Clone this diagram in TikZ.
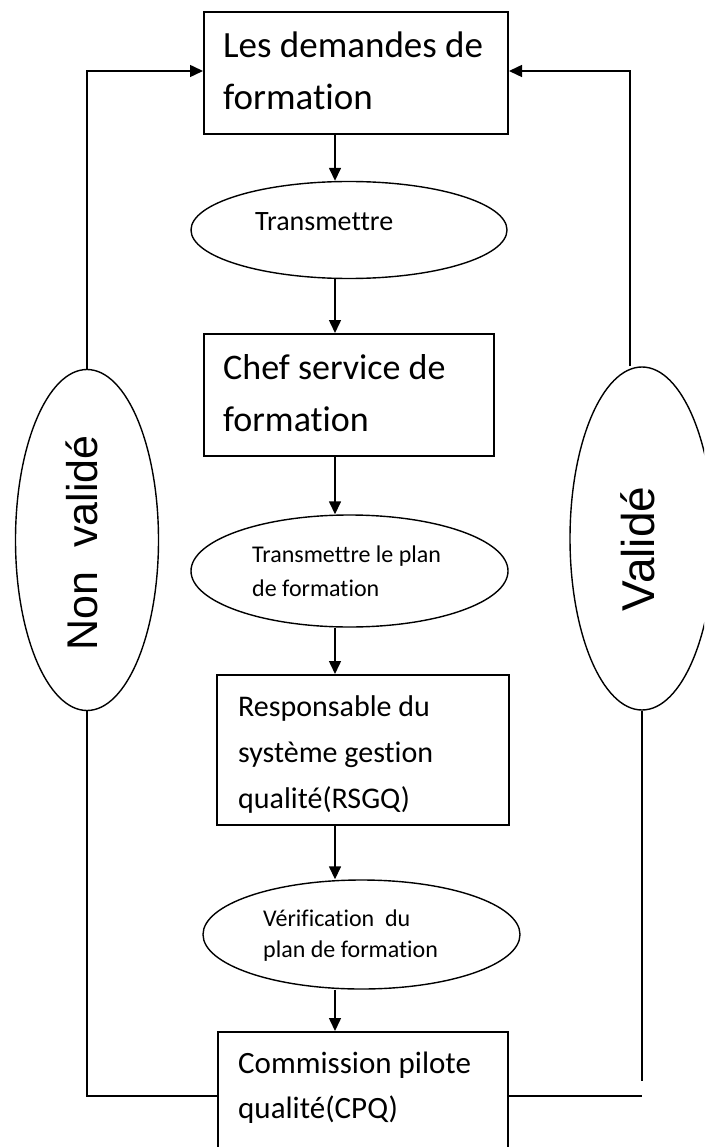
\documentclass[tikz,border=0pt]{standalone}
\usepackage{fontspec}
\setmainfont{Carlito}[Ligatures=NoCommon]
\newfontfamily\arialfont{Liberation Sans}
\usetikzlibrary{shapes.geometric,arrows.meta}
\begin{document}
\begin{tikzpicture}[x=1pt,y=-1pt,
  box/.style={draw, rectangle, line width=2pt, inner sep=0pt, anchor=north west},
  oval/.style={draw, ellipse, line width=1.4pt, inner sep=0pt},
  txt/.style={inner sep=0pt, align=left, anchor=west},
  vtxt/.style={inner sep=0pt, rotate=90},
  arr/.style={line width=1.5pt, -{Triangle[length=13pt,width=12pt]}},
  conn/.style={line width=1.5pt}]
\useasboundingbox (0,0) rectangle (704,1147);
\clip (0,0) rectangle (704,1147);
% boxes
\node[box, minimum width=304pt, minimum height=122pt] (b1) at (203,11) {};
\node[box, minimum width=290pt, minimum height=122pt] (b2) at (203,333) {};
\node[box, minimum width=292pt, minimum height=150pt] (b3) at (216,674) {};
\node[box, minimum width=290pt, minimum height=160pt] (b4) at (217,1031) {};
% ellipses
\node[oval, minimum width=316pt, minimum height=97pt] (e1) at (349,230) {};
\node[oval, minimum width=317pt, minimum height=112pt] (e2) at (349.5,571) {};
\node[oval, minimum width=317pt, minimum height=109pt] (e3) at (361.5,934.5) {};
\node[oval, minimum width=143pt, minimum height=341pt] (nv) at (87,540) {};
\node[oval, minimum width=144pt, minimum height=343pt] (va) at (642,538.5) {};
% texts
\node[txt, font=\fontsize{37}{52}\selectfont] (t1) at (223,71) {Les demandes de\\formation};
\node[txt, font=\fontsize{36}{52}\selectfont] (t2) at (223,393) {Chef service de\\formation};
\node[txt, font=\fontsize{30}{46}\selectfont] (t3) at (238,754) {Responsable du\\système gestion\\qualité(RSGQ)};
\node[txt, font=\fontsize{31}{45}\selectfont] (t4) at (238,1088) {Commission pilote\\qualité(CPQ)};
\node[txt, font=\fontsize{28}{34}\selectfont] (s1) at (255,222) {Transmettre};
\node[txt, font=\fontsize{24}{34}\selectfont] (s2) at (252,571) {Transmettre le plan\\de formation};
\node[txt, font=\fontsize{24}{31}\selectfont] (s3) at (263,936) {Vérification~~du\\plan de formation};
\node[vtxt, font=\arialfont\fontsize{43}{52}\selectfont] (tnv) at (82,543) {Non~~validé};
\node[vtxt, font=\arialfont\fontsize{46}{56}\selectfont] (tva) at (638,549) {Validé};
% helper coordinates
\coordinate (ax) at (335,0);
\coordinate (rx) at (630,0);
\coordinate (yb) at (0,1096);
\coordinate (ye) at (0,1081);
\coordinate (yt) at (0,71);
% main flow
\draw[arr] (b1.south -| ax) -- (e1.north -| ax);
\draw[arr] (e1.south -| ax) -- (b2.north -| ax);
\draw[arr] (b2.south -| ax) -- (e2.north -| ax);
\draw[arr] (e2.south -| ax) -- (b3.north -| ax);
\draw[arr] (b3.south -| ax) -- (e3.north -| ax);
\draw[arr] (e3.south -| ax) -- (b4.north -| ax);
% loops
\draw[arr] (nv.north) -- (nv.north |- yt) -- (b1.west |- yt);
\draw[arr] (va.north -| rx) -- (rx |- yt) -- (b1.east |- yt);
\draw[conn] (nv.south) -- (nv.south |- yb) -- (b4.west |- yb);
\draw[conn] (va.south) -- (va.south |- ye);
\draw[conn] (b4.east |- yb) -- (va.south |- yb);
\end{tikzpicture}
\end{document}
